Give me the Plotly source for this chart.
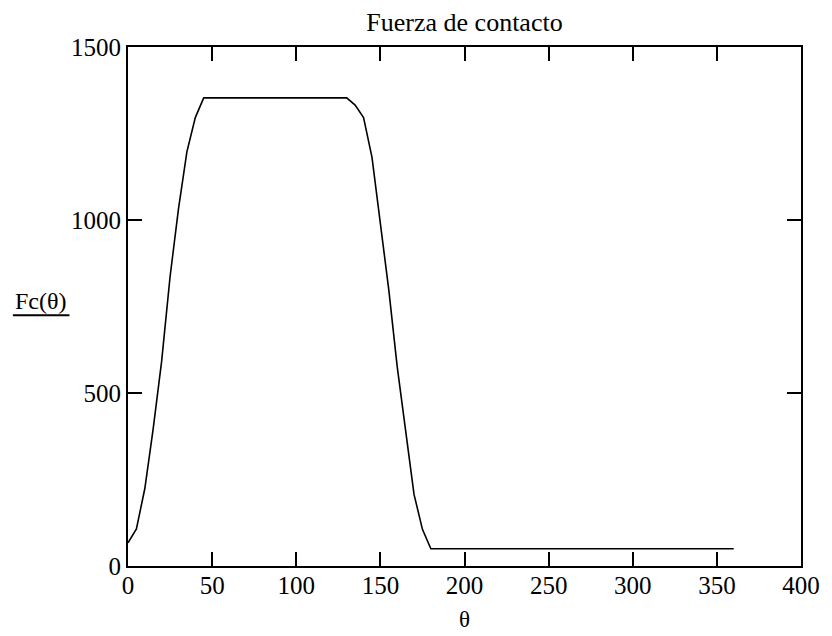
import plotly.graph_objects as go

# Contact force Fc as a function of cam angle theta (degrees)
theta = list(range(0, 365, 5))
fc = [
    67, 107, 224, 398, 592, 836, 1032, 1197, 1296,          # 0 - 40
    1353, 1353, 1353, 1353, 1353, 1353, 1353, 1353, 1353,  # 45 - 85
    1353, 1353, 1353, 1353, 1353, 1353, 1353, 1353, 1353,  # 90 - 130
    1332, 1296, 1182, 990, 798, 576, 390, 207, 106,        # 135 - 175
    50, 50, 50, 50, 50, 50, 50, 50, 50, 50, 50, 50,        # 180 - 235
    50, 50, 50, 50, 50, 50, 50, 50, 50, 50, 50, 50,        # 240 - 295
    50, 50, 50, 50, 50, 50, 50, 50, 50, 50, 50, 50, 50,    # 300 - 360
]

x_ticks = [0, 50, 100, 150, 200, 250, 300, 350, 400]
y_ticks = [0, 500, 1000, 1500]

FONT = "Liberation Serif"

fig = go.Figure()
fig.add_trace(go.Scatter(
    x=theta, y=fc, mode="lines",
    line=dict(color="black", width=1.6),
    showlegend=False, hoverinfo="skip",
))

axis_common = dict(
    showgrid=False, zeroline=False,
    showline=True, linecolor="black", linewidth=2,
    mirror="ticks", ticks="inside", ticklen=14, tickwidth=2, tickcolor="black",
    tickfont=dict(family=FONT, size=25, color="black"),
)

fig.update_xaxes(range=[0, 400], tickvals=x_ticks, ticktext=[str(v) for v in x_ticks],
                 ticklabelstandoff=-4, **axis_common)
fig.update_yaxes(range=[0, 1500], tickvals=y_ticks, ticktext=[str(v) for v in y_ticks],
                 **axis_common)

fig.update_layout(
    width=832, height=636,
    margin=dict(l=128, r=22, t=47, b=70),
    paper_bgcolor="white", plot_bgcolor="white",
    title=dict(text="Fuerza de contacto", x=0.5, xref="paper", xanchor="center",
               y=1.0, yref="paper", yanchor="bottom", pad=dict(b=16),
               font=dict(family=FONT, size=26, color="black")),
)

# Axis titles
fig.add_annotation(text="θ", xref="paper", yref="paper", x=0.5, y=-0.104,
                   xanchor="center", yanchor="middle", showarrow=False,
                   font=dict(family=FONT, size=23, color="black"))
fig.add_annotation(text="Fc(θ)", xref="paper", yref="paper", x=-0.13, y=0.51,
                   xanchor="center", yanchor="middle", showarrow=False,
                   font=dict(family=FONT, size=24, color="black"))
fig.add_shape(type="line", xref="paper", yref="paper",
              x0=-0.171, x1=-0.087, y0=0.483, y1=0.483,
              line=dict(color="black", width=2))

fig.write_html("out.html")
